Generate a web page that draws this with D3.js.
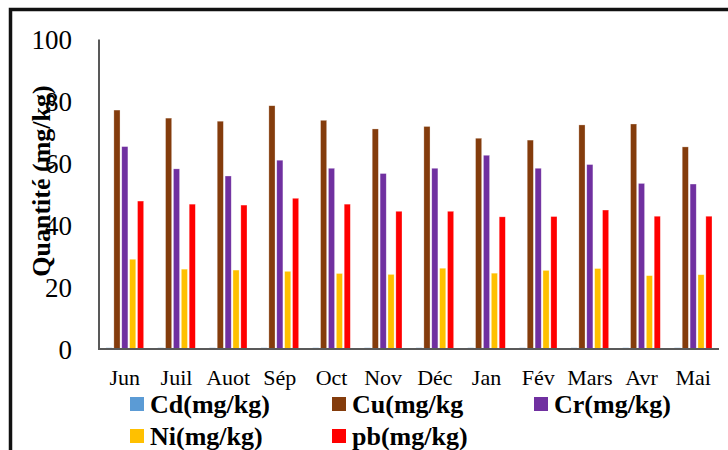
<!DOCTYPE html>
<html lang="fr">
<head>
    <meta charset="UTF-8">
    <title>Quantité des métaux</title>
    <style>
        body { margin: 0; background: #fff; }
        text { font-family: 'Liberation Serif', 'Times New Roman', serif; fill: #000; }
        .axis-line { stroke: #595959; stroke-width: 2px; }
        .bar { stroke: rgba(255,255,255,0.5); stroke-width: 0.6px; }
    </style>
</head>
<body>
<script src="https://d3js.org/d3.v7.min.js"></script>
<script>

    const width = 728;
    const height = 450;
    const margin = {'left': 99, 'right': 9, 'top': 39.5, 'bottom': 101};

    const months = ['Jun', 'Juil', 'Auot', 'Sép', 'Oct', 'Nov', 'Déc', 'Jan', 'Fév', 'Mars', 'Avr', 'Mai'];
    const series = ['Cd', 'Cu', 'Cr', 'Ni', 'pb'];
    const legendLabels = ['Cd(mg/kg)', 'Cu(mg/kg', 'Cr(mg/kg)', 'Ni(mg/kg)', 'pb(mg/kg)'];
    const colour = {'Cd': '#5b9bd5', 'Cu': '#843c0c', 'Cr': '#7030a0', 'Ni': '#ffc000', 'pb': '#ff0000'};
    const yTicks = [0, 20, 40, 60, 80, 100];

    const cd = [0.4, 0.4, 0.4, 0.4, 0.4, 0.4, 0.4, 0.4, 0.4, 0.4, 0.4, 0.4];
    const cu = [77.2, 74.6, 73.6, 78.6, 73.9, 71.1, 71.9, 68.1, 67.5, 72.4, 72.7, 65.3];
    const cr = [65.4, 58.2, 55.9, 61.0, 58.4, 56.7, 58.4, 62.6, 58.4, 59.6, 53.5, 53.3];
    const ni = [29.0, 25.8, 25.5, 25.1, 24.4, 24.1, 26.1, 24.5, 25.4, 26.0, 23.7, 24.0];
    const pb = [47.8, 46.8, 46.5, 48.7, 46.8, 44.5, 44.5, 42.7, 42.8, 44.9, 42.9, 42.9];

    const values = {'Cd': cd, 'Cu': cu, 'Cr': cr, 'Ni': ni, 'pb': pb};

    let svg = d3.select('body').append('svg')
        .attr('width', width)
        .attr('height', height);

    // outer frame (right and bottom fall outside the picture)
    svg.append('rect')
        .attr('x', 10.5)
        .attr('y', 9.5)
        .attr('width', 800)
        .attr('height', 600)
        .style('fill', 'none')
        .style('stroke', '#111')
        .style('stroke-width', '3.5px');

    let x0 = d3.scaleBand()
        .domain(months)
        .range([margin.left, width - margin.right])
        .padding(0);

    let x1 = d3.scaleBand()
        .domain(series)
        .range([7, x0.bandwidth() - 7])
        .paddingInner(0.22);

    let y = d3.scaleLinear()
        .domain([0, 100])
        .range([height - margin.bottom, margin.top]);

    // bars
    let groups = svg.append('g').selectAll('g')
        .data(months)
        .join('g')
        .attr('transform', function(d) { return 'translate(' + x0(d) + ',0)'; });

    groups.selectAll('rect')
        .data(function(d, i) { return series.map(function(s) { return {'s': s, 'v': values[s][i]}; }); })
        .join('rect')
        .classed('bar', true)
        .attr('x', function(d) { return x1(d.s); })
        .attr('width', x1.bandwidth())
        .attr('y', function(d) { return y(d.v); })
        .attr('height', function(d) { return y(0) - y(d.v); })
        .style('fill', function(d) { return colour[d.s]; });

    // axes
    let yAxis = svg.append('g')
        .attr('transform', 'translate(' + margin.left + ',0)')
        .call(d3.axisLeft(y).tickValues(yTicks).tickSize(0).tickPadding(27));
    yAxis.select('.domain').remove();
    yAxis.selectAll('text')
        .style('font-family', "'Liberation Serif', serif")
        .style('font-size', '27px')
        .attr('dy', '0.35em');

    let xAxis = svg.append('g')
        .attr('transform', 'translate(0,' + y(0) + ')')
        .call(d3.axisBottom(x0).tickSize(0).tickPadding(20));
    xAxis.select('.domain').remove();
    xAxis.selectAll('text')
        .style('font-family', "'Liberation Serif', serif")
        .style('font-size', '22px');

    svg.append('line')
        .classed('axis-line', true)
        .attr('x1', margin.left)
        .attr('x2', margin.left)
        .attr('y1', y(100))
        .attr('y2', y(0) + 1);

    svg.append('line')
        .classed('axis-line', true)
        .attr('x1', margin.left)
        .attr('x2', width - margin.right)
        .attr('y1', y(0))
        .attr('y2', y(0));

    // y title
    svg.append('text')
        .attr('transform', 'translate(50,' + 181 + ') rotate(-90)')
        .attr('text-anchor', 'middle')
        .style('font-size', '26px')
        .style('font-weight', 'bold')
        .text('Quantité (mg/kg)');

    // legend
    const legendPos = [[130, 397], [332, 397], [534, 397], [130, 429], [332, 429]];
    let legend = svg.append('g');
    series.forEach(function(s, i) {
        let p = legendPos[i];
        legend.append('rect')
            .attr('x', p[0])
            .attr('y', p[1])
            .attr('width', 14)
            .attr('height', 14)
            .style('fill', colour[s]);
        legend.append('text')
            .attr('x', p[0] + 20)
            .attr('y', p[1] + 16)
            .style('font-size', '26px')
            .style('font-weight', 'bold')
            .text(legendLabels[i]);
    });

</script>
</body>
</html>
